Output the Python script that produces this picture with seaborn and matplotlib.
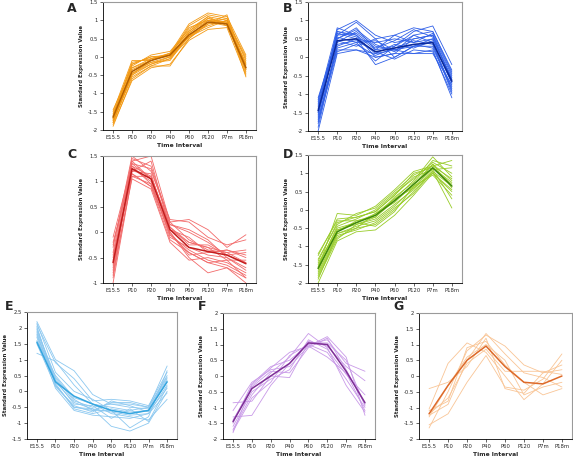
import matplotlib
matplotlib.use("Agg")
import matplotlib.pyplot as plt
import pandas as pd
import numpy as np
import seaborn as sns

times = ["E15.5", "P10", "P20", "P40", "P60", "P120", "P7m", "P18m"]

# cluster A
a_lines = [
    [-1.90, -0.60, -0.25, -0.05, 0.50, 0.90, 0.95, -0.45],
    [-1.80, -0.50, -0.20, 0.00, 0.55, 0.80, 1.00, -0.55],
    [-1.70, -0.30, -0.05, 0.10, 0.70, 1.05, 0.90, -0.20],
    [-1.60, -0.20, 0.00, 0.05, 0.85, 1.15, 1.05, -0.10],
    [-1.50, -0.10, -0.10, 0.10, 0.90, 1.20, 1.10, 0.05],
    [-1.75, -0.45, -0.15, -0.10, 0.60, 0.95, 0.85, -0.35],
    [-1.65, -0.35, -0.10, 0.05, 0.65, 1.00, 0.95, -0.25],
    [-1.85, -0.65, -0.30, -0.20, 0.45, 0.75, 0.80, -0.50],
    [-1.55, -0.25, 0.05, 0.15, 0.75, 1.10, 1.00, 0.00],
    [-1.70, -0.40, -0.15, 0.00, 0.55, 0.90, 1.15, -0.30],
    [-1.60, -0.15, -0.05, 0.05, 0.80, 1.00, 0.90, -0.15],
    [-1.75, -0.55, -0.25, -0.25, 0.50, 0.95, 1.05, -0.40],
    [-1.45, -0.30, -0.10, 0.10, 0.70, 1.10, 0.85, -0.20],
    [-1.80, -0.45, -0.20, -0.05, 0.60, 0.85, 1.00, -0.35],
    [-1.65, -0.20, 0.00, 0.00, 0.65, 1.05, 0.95, -0.05],
    [-1.70, -0.50, -0.05, 0.05, 0.55, 1.00, 0.90, -0.30],
]
a_mean = [-1.65, -0.40, -0.10, 0.05, 0.60, 0.95, 0.90, -0.30]

# cluster B
b_lines = [
    [-2.00, 0.10, 0.20, 0.00, 0.10, 0.10, 0.10, -0.75],
    [-1.80, 0.40, 0.70, 0.30, 0.20, 0.30, 0.40, -0.90],
    [-1.60, 0.60, 0.95, 0.50, 0.00, 0.30, 0.50, -0.60],
    [-1.40, 0.75, 1.00, 0.60, 0.40, 0.50, 0.60, -0.50],
    [-1.20, 0.80, 0.60, 0.20, 0.60, 0.80, 0.70, -0.40],
    [-1.10, 0.55, 0.40, -0.10, 0.30, 0.70, 0.85, -0.20],
    [-1.50, 0.20, 0.20, 0.10, 0.20, 0.10, 0.20, -1.10],
    [-1.70, 0.30, 0.50, -0.20, 0.00, 0.30, 0.30, -0.80],
    [-1.30, 0.65, 0.50, 0.40, 0.50, 0.40, 0.50, -0.55],
    [-1.45, 0.50, 0.80, 0.20, 0.30, 0.60, 0.40, -0.70],
    [-1.55, 0.70, 0.60, 0.00, 0.10, 0.50, 0.60, -0.65],
    [-1.25, 0.45, 0.30, 0.50, 0.60, 0.40, 0.65, -0.45],
    [-1.90, 0.35, 0.45, 0.15, -0.05, 0.20, 0.15, -1.00],
    [-1.35, 0.60, 0.65, 0.25, 0.45, 0.75, 0.55, -0.60],
    [-1.65, 0.25, 0.40, 0.45, 0.20, 0.35, 0.25, -0.85],
    [-1.50, 0.70, 0.55, 0.10, 0.35, 0.25, 0.45, -0.70],
    [-1.15, 0.50, 0.75, 0.35, 0.15, 0.60, 0.70, -0.35],
    [-1.75, 0.15, 0.35, 0.05, 0.25, 0.45, 0.35, -0.95],
]
b_mean = [-1.45, 0.45, 0.50, 0.15, 0.25, 0.35, 0.40, -0.65]

# cluster C
c_lines = [
    [-1.00, 1.10, 0.95, -0.05, -0.40, -0.60, -0.55, -0.90],
    [-0.90, 1.15, 0.90, 0.00, -0.50, -0.80, -0.70, -1.00],
    [-0.70, 1.30, 1.10, 0.10, -0.20, -0.30, -0.40, -0.60],
    [-0.50, 1.40, 1.50, 0.20, 0.25, 0.05, -0.30, -0.05],
    [-0.30, 1.50, 1.20, 0.25, 0.20, -0.10, -0.25, -0.15],
    [-0.10, 1.35, 1.05, 0.15, 0.00, -0.20, -0.45, -0.40],
    [-0.20, 1.20, 1.40, 0.05, -0.10, -0.40, -0.35, -0.50],
    [-0.80, 1.05, 0.85, -0.20, -0.55, -0.50, -0.60, -0.80],
    [-0.60, 1.25, 1.00, -0.10, -0.30, -0.45, -0.50, -0.70],
    [-0.40, 1.45, 1.30, 0.20, -0.15, -0.35, -0.40, -0.35],
    [-0.65, 1.20, 1.15, -0.05, -0.35, -0.55, -0.65, -0.85],
    [-0.55, 1.10, 1.10, 0.10, -0.25, -0.25, -0.45, -0.60],
    [-0.25, 1.30, 0.95, 0.00, -0.45, -0.40, -0.35, -0.45],
    [-0.75, 1.35, 1.25, 0.15, 0.05, -0.15, -0.50, -0.75],
    [-0.45, 1.15, 0.90, -0.15, -0.40, -0.60, -0.70, -0.90],
    [-0.85, 1.40, 1.05, 0.05, -0.20, -0.30, -0.55, -0.55],
]
c_mean = [-0.60, 1.25, 1.05, 0.05, -0.30, -0.38, -0.45, -0.62]

# cluster D
d_lines = [
    [-2.00, -0.85, -0.60, -0.55, -0.15, 0.40, 1.00, 0.50],
    [-1.80, -0.75, -0.50, -0.40, 0.00, 0.50, 1.05, 0.05],
    [-1.60, -0.10, -0.15, 0.10, 0.55, 1.05, 1.20, 1.35],
    [-1.40, -0.35, -0.20, -0.05, 0.40, 0.90, 1.10, 1.15],
    [-1.20, -0.30, -0.30, -0.15, 0.30, 0.80, 1.45, 0.90],
    [-1.70, -0.65, -0.45, -0.30, 0.10, 0.60, 1.15, 0.75],
    [-1.50, -0.50, -0.35, -0.10, 0.20, 0.70, 1.25, 0.60],
    [-1.85, -0.80, -0.40, -0.20, 0.25, 0.65, 0.95, 0.40],
    [-1.55, -0.45, -0.25, 0.00, 0.45, 0.85, 1.30, 1.00],
    [-1.65, -0.55, -0.40, -0.25, 0.15, 0.55, 1.10, 0.30],
    [-1.35, -0.40, -0.10, 0.05, 0.50, 0.95, 1.20, 0.85],
    [-1.75, -0.70, -0.55, -0.35, 0.05, 0.45, 1.05, 0.65],
    [-1.45, -0.60, -0.30, -0.20, 0.35, 0.75, 1.35, 1.20],
    [-1.90, -0.65, -0.50, -0.10, 0.30, 0.60, 1.00, 0.55],
    [-1.25, -0.25, -0.20, -0.05, 0.40, 1.00, 1.15, 0.70],
    [-1.60, -0.55, -0.35, -0.45, -0.05, 0.65, 1.25, 0.80],
]
d_mean = [-1.60, -0.60, -0.35, -0.15, 0.25, 0.70, 1.15, 0.65]

# cluster E
e_lines = [
    [2.20, 1.00, 0.65, -0.10, -0.40, -0.40, -0.50, 0.80],
    [2.10, 0.90, 0.40, -0.30, -0.25, -0.30, -0.45, 0.60],
    [1.90, 0.40, -0.30, -0.50, -0.40, -0.50, -0.55, 0.40],
    [1.80, 0.20, -0.50, -0.60, -0.60, -0.70, -0.60, 0.30],
    [1.70, 0.10, -0.60, -0.75, -0.80, -0.85, -0.70, 0.20],
    [2.00, 0.30, -0.35, -0.55, -1.10, -1.25, -1.00, 0.00],
    [1.60, 0.50, -0.20, -0.40, -0.50, -0.60, -0.50, 0.50],
    [1.20, 0.95, 0.20, -0.40, -0.70, -0.80, -0.90, -0.25],
    [1.50, 0.15, -0.45, -0.65, -0.30, -0.45, -0.65, 0.10],
    [2.15, 0.60, 0.00, -0.25, -0.60, -1.15, -0.80, 0.65],
    [1.85, 0.25, -0.55, -0.70, -0.55, -0.65, -0.60, 0.35],
    [1.75, 0.35, -0.40, -0.45, -0.85, -0.55, -0.95, 0.15],
    [1.95, 0.45, -0.25, -0.60, -0.35, -0.35, -0.50, 0.45],
    [2.05, 0.20, -0.50, -0.55, -0.65, -0.75, -0.70, -0.05],
]
e_mean = [1.55, 0.30, -0.15, -0.40, -0.60, -0.70, -0.60, 0.30]

# cluster F
f_lines = [
    [-1.80, -0.30, 0.25, 0.75, 0.95, 1.25, 0.60, -1.25],
    [-1.70, -0.60, 0.10, 0.60, 1.35, 0.90, -0.30, -1.15],
    [-1.50, -0.25, 0.30, 0.50, 1.00, 1.15, 0.40, 0.15],
    [-1.30, -1.25, -0.30, 0.40, 1.10, 0.95, 0.30, -0.15],
    [-1.10, -0.20, 0.20, 0.30, 0.95, 0.60, 0.10, -1.10],
    [-0.85, -0.80, 0.00, -0.05, 1.05, 1.05, 0.50, -0.95],
    [-1.60, -0.50, -0.10, 0.20, 1.15, 0.85, 0.05, -0.60],
    [-1.40, -0.35, 0.15, 0.10, 0.90, 1.20, 0.20, -0.90],
    [-1.75, -0.70, -0.20, 0.65, 1.00, 0.75, -0.10, -1.00],
]
f_mean = [-1.45, -0.40, 0.00, 0.40, 1.05, 1.00, 0.15, -0.85]

# cluster G
g_lines = [
    [-1.65, -0.50, 0.80, 1.30, 0.95, 0.35, 0.10, 0.20],
    [-1.55, -1.20, -0.20, 0.65, -0.35, -0.45, -0.10, 0.70],
    [-1.25, -0.90, 0.50, 1.35, 0.70, 0.10, -0.05, -0.35],
    [-1.05, 0.40, 1.05, 0.75, 0.00, -0.75, -0.25, 0.50],
    [-0.40, -0.20, 0.30, 1.20, -0.40, -0.55, 0.10, 0.35],
    [-1.10, -0.80, 0.90, 1.10, 0.35, -0.20, -0.60, -0.40],
    [-1.30, -0.30, 0.60, 1.00, 0.50, -0.60, -0.35, -0.20],
    [-1.20, -0.70, 0.40, 0.85, 0.15, 0.15, 0.15, 0.05],
]
g_mean = [-1.20, -0.30, 0.50, 0.95, 0.30, -0.20, -0.25, 0.00]

# (letter, lines, mean, light colour, dark colour, ylim, axes box px, letter pos px)
panels = [
    ("A", a_lines, a_mean, "#f39a14", "#b35f00", (-2, 1.5), (103, 256, 2, 130), (72, 9)),
    ("B", b_lines, b_mean, "#2f5fe8", "#0c2a9a", (-2, 1.5), (308, 462, 2, 131), (288, 9)),
    ("C", c_lines, c_mean, "#f26a6a", "#c21e1e", (-1, 1.5), (103, 256, 156, 283), (72, 154)),
    ("D", d_lines, d_mean, "#98cc28", "#3f8a0c", (-2, 1.5), (308, 462, 155, 283), (288, 154)),
    ("E", e_lines, e_mean, "#8cc8f0", "#35a6e0", (-1.5, 2.5), (27, 177, 312, 439), (9, 307)),
    ("F", f_lines, f_mean, "#c99ae8", "#7e2f96", (-2, 2), (223, 375, 313, 439), (202, 307)),
    ("G", g_lines, g_mean, "#f9c596", "#dd6a2a", (-2, 2), (419, 572, 313, 439), (398, 307)),
]

W, H = 573, 457
sns.set_style("white")
fig = plt.figure(figsize=(W / 100, H / 100), dpi=100)

for letter, lines, mean, light, dark, ylim, box, lpos in panels:
    x0, x1, y0, y1 = box
    ax = fig.add_axes([x0 / W, 1 - y1 / H, (x1 - x0) / W, (y1 - y0) / H])

    rows = []
    for i, vals in enumerate(lines):
        for t, v in enumerate(vals):
            rows.append({"gene": i, "t": t, "value": v})
    df = pd.DataFrame(rows)
    sns.lineplot(data=df, x="t", y="value", units="gene", estimator=None,
                 color=light, lw=0.6, ax=ax, legend=False)
    sns.lineplot(x=np.arange(len(times)), y=mean, color=dark, lw=1.1, ax=ax)

    yt = np.arange(ylim[0], ylim[1] + 0.01, 0.5)
    ax.set_xlim(-0.53, len(times) - 0.47)
    ax.set_ylim(*ylim)
    ax.set_yticks(yt)
    ax.set_yticklabels([f"{v:g}" for v in yt])
    ax.set_xticks(range(len(times)))
    ax.set_xticklabels(times)
    ax.tick_params(axis="both", labelsize=3.8, length=2, width=0.5, pad=1.5,
                   left=True, bottom=True)
    for side in ["top", "right"]:
        ax.spines[side].set_color("#9a9a9a")
        ax.spines[side].set_linewidth(0.8)
    for side in ["left", "bottom"]:
        ax.spines[side].set_color("black")
        ax.spines[side].set_linewidth(0.6)
    ax.set_xlabel("Time Interval", fontsize=4.3, fontweight="bold", labelpad=2)
    ax.set_ylabel("Standard Expression Value", fontsize=3.9, fontweight="bold", labelpad=3)
    fig.text(lpos[0] / W, 1 - lpos[1] / H, letter, fontsize=9,
             fontweight="bold", ha="center", va="center")

fig.savefig("out.png", dpi=100)
